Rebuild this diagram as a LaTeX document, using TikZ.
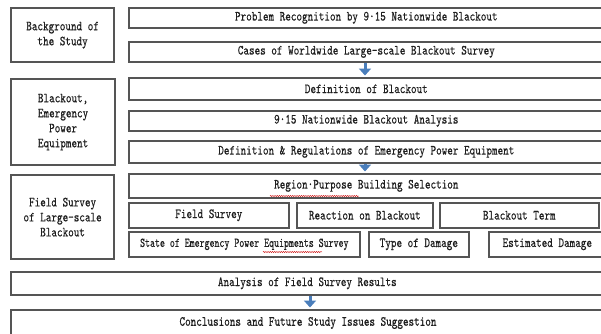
\documentclass[tikz,border=0pt]{standalone}
\usepackage{fontspec}
\newfontfamily\dfont{lmmono10-regular.otf}[FakeStretch=0.76,FakeBold=0.3]
\newfontfamily\dfontn{lmmono10-regular.otf}[FakeStretch=0.70,FakeBold=0.3]
\usetikzlibrary{arrows.meta,decorations.pathmorphing}
\definecolor{boxline}{HTML}{555555}
\definecolor{txt}{HTML}{1E1E1E}
\definecolor{arrowblue}{HTML}{4A7EBB}
\tikzset{
  rbox/.style={draw=boxline, line width=1.6pt, fill=white, rectangle, inner sep=0pt,
    anchor=north west, text=txt, font=\dfont\fontsize{14}{15}\selectfont},
  lbox/.style={rbox, line width=2.2pt, align=center},
  flow/.style={draw=arrowblue, line width=3pt, -{Triangle[width=12pt,length=7pt]}, shorten >=1.5pt},
  squig/.style={draw=red!80!black, line width=0.4pt, decorate,
    decoration={snake, segment length=2.2pt, amplitude=0.6pt}}
}
\newcommand{\bx}[7]{% style, name, x1, y1, x2, y2, text
  \node[#1, minimum width={(#5-#3)*1pt}, minimum height={(#6-#4)*1pt}] (#2) at (#3,#4) {#7};}
\begin{document}
\begin{tikzpicture}[x=1pt,y=-1pt]
\useasboundingbox (0,0) rectangle (601,333);
\clip (0,0) rectangle (601,333);
\fill[white] (0,0) rectangle (601,333);
% left boxes
\bx{lbox}{l1}{10}{7}{113}{61}{Background of\\the Study}
\bx{lbox}{l2}{10}{78}{114}{164}{Blackout,\\Emergency\\Power\\Equipment}
\bx{lbox}{l3}{10}{174}{113}{258}{Field Survey\\of Large-scale\\Blackout}
% right column
\bx{rbox}{r1}{128}{7}{603}{27}{Problem Recognition by 9·15 Nationwide Blackout}
\bx{rbox}{r2}{128}{41}{603}{61}{Cases of Worldwide Large-scale Blackout Survey}
\bx{rbox}{r3}{128}{77}{603}{99}{Definition of Blackout}
\bx{rbox}{r4}{128}{110}{603}{130}{9·15 Nationwide Blackout Analysis}
\bx{rbox}{r5}{128}{140}{603}{162}{Definition \& Regulations of Emergency Power Equipment}
\bx{rbox}{r6}{128}{173}{603}{197}{Region·Purpose Building Selection}
\bx{rbox}{r7a}{128}{202}{288}{227}{Field Survey}
\bx{rbox}{r7b}{296}{202}{432}{227}{Reaction on Blackout}
\bx{rbox}{r7c}{439}{202}{598}{227}{Blackout Term}
\bx{rbox}{r8a}{128}{231}{359}{256}{\dfontn\fontsize{13.5}{15}\selectfont State of Emergency Power Equipments Survey}
\bx{rbox}{r8b}{368}{231}{468}{256}{Type of Damage}
\bx{rbox}{r8c}{488}{231}{605}{256}{Estimated Damage}
\bx{rbox}{r9}{10}{271}{603}{294}{Analysis of Field Survey Results}
\node[rbox, minimum width=593pt, minimum height=32pt, text height=0pt, text depth=0pt] (r10) at (10,309) {};
\node[text=txt, font=\dfont\fontsize{14}{15}\selectfont] (r10t) at (308,323) {Conclusions and Future Study Issues Suggestion};
% arrows
\coordinate (a1) at (365,0);
\coordinate (a2) at (310,0);
\draw[flow] (r2.south -| a1) -- (r3.north -| a1);
\draw[flow] (r5.south -| a1) -- (r6.north -| a1);
\draw[flow] (r9.south -| a2) -- (r10.north -| a2);
% spell-check squiggles
\draw[squig] (270,196) -- (359,196);
\draw[squig] (263,252) -- (322,252);
\end{tikzpicture}
\end{document}
